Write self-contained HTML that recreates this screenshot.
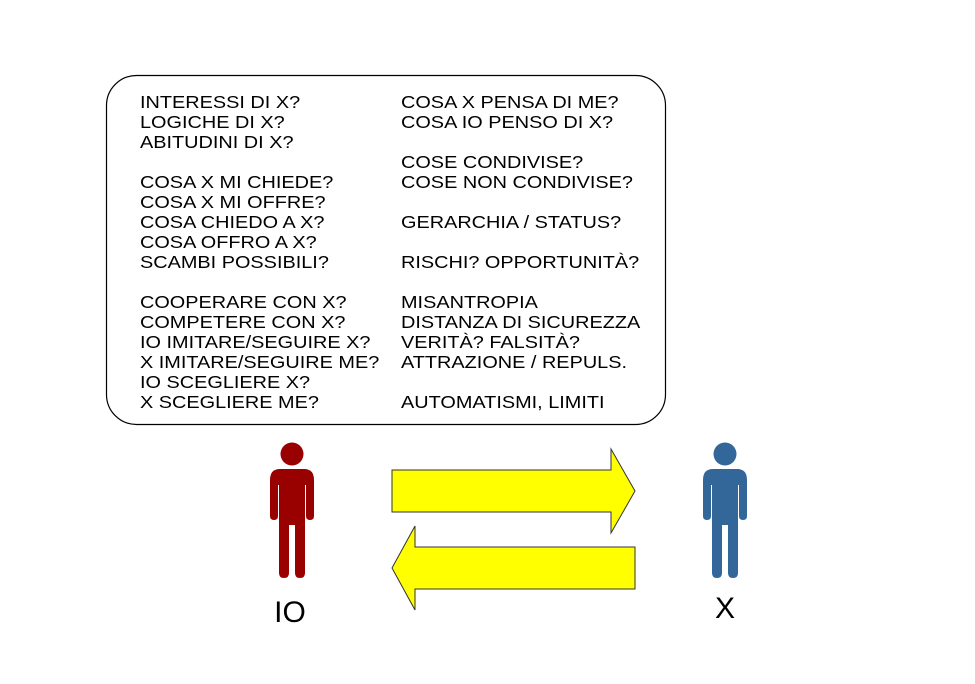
<!DOCTYPE html>
<html><head><meta charset="utf-8"><style>
html,body{margin:0;padding:0;background:#fff;}
svg{display:block;}
text{font-family:"Liberation Sans",sans-serif;}
</style></head><body>
<svg width="975" height="684" viewBox="0 0 975 684" xmlns="http://www.w3.org/2000/svg">
<rect x="106.5" y="75.5" width="559" height="349" rx="30" ry="30" fill="#fff" stroke="#000" stroke-width="1.2"/>
<g font-size="18" fill="#000" transform="translate(140,0) scale(1.105,1)">
<text x="0" y="108">INTERESSI DI X?</text>
<text x="0" y="128">LOGICHE DI X?</text>
<text x="0" y="148">ABITUDINI DI X?</text>
<text x="0" y="188">COSA X MI CHIEDE?</text>
<text x="0" y="208">COSA X MI OFFRE?</text>
<text x="0" y="228">COSA CHIEDO A X?</text>
<text x="0" y="248">COSA OFFRO A X?</text>
<text x="0" y="268">SCAMBI POSSIBILI?</text>
<text x="0" y="308">COOPERARE CON X?</text>
<text x="0" y="328">COMPETERE CON X?</text>
<text x="0" y="348">IO IMITARE/SEGUIRE X?</text>
<text x="0" y="368">X IMITARE/SEGUIRE ME?</text>
<text x="0" y="388">IO SCEGLIERE X?</text>
<text x="0" y="408">X SCEGLIERE ME?</text>
</g>
<g font-size="18" fill="#000" transform="translate(401,0) scale(1.105,1)">
<text x="0" y="108">COSA X PENSA DI ME?</text>
<text x="0" y="128">COSA IO PENSO DI X?</text>
<text x="0" y="168">COSE CONDIVISE?</text>
<text x="0" y="188">COSE NON CONDIVISE?</text>
<text x="0" y="228">GERARCHIA / STATUS?</text>
<text x="0" y="268">RISCHI? OPPORTUNITÀ?</text>
<text x="0" y="308">MISANTROPIA</text>
<text x="0" y="328">DISTANZA DI SICUREZZA</text>
<text x="0" y="348">VERITÀ? FALSITÀ?</text>
<text x="0" y="368">ATTRAZIONE / REPULS.</text>
<text x="0" y="408">AUTOMATISMI, LIMITI</text>
</g>
<polygon points="392,470 611,470 611,449 635,491 611,533 611,512 392,512" fill="#ffff00" stroke="#333" stroke-width="1"/>
<polygon points="635,547 429,547 415,547 415,526 392,568 415,610 415,589 635,589" fill="#ffff00" stroke="#333" stroke-width="1"/>
<g fill="#990000">
<circle cx="292" cy="454" r="11.5"/>
<path d="M280,469 H304 Q314,469 314,480 V516 Q314,520 310,520 Q306,520 306,516 V485 H305 V573 Q305,578 300,578 Q295,578 295,573 V525 H289 V573 Q289,578 284,578 Q279,578 279,573 V485 H278 V516 Q278,520 274,520 Q270,520 270,516 V480 Q270,469 280,469 Z"/>
</g>
<g fill="#336699">
<circle cx="725" cy="454" r="11.5"/>
<path d="M713,469 H737 Q747,469 747,480 V516 Q747,520 743,520 Q739,520 739,516 V485 H738 V573 Q738,578 733,578 Q728,578 728,573 V525 H722 V573 Q722,578 717,578 Q712,578 712,573 V485 H711 V516 Q711,520 707,520 Q703,520 703,516 V480 Q703,469 713,469 Z"/>
</g>
<text x="290" y="622" font-size="30" text-anchor="middle" fill="#000">IO</text>
<text x="725" y="618" font-size="30" text-anchor="middle" fill="#000">X</text>
</svg>
</body></html>
